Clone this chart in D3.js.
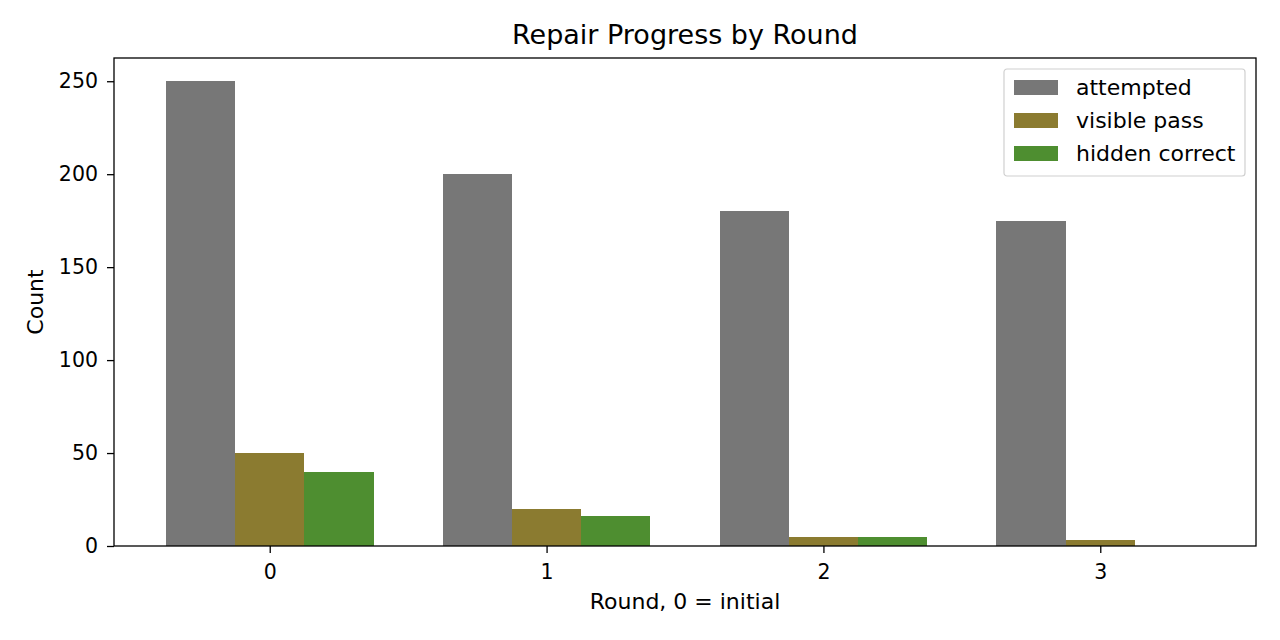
<!DOCTYPE html>
<html>
<head>
<meta charset="utf-8">
<script src="https://cdn.jsdelivr.net/npm/d3@7"></script>
<style>
  body { margin: 0; background: #fff; }
  text { font-family: "DejaVu Sans", sans-serif; }
</style>
</head>
<body>
<div id="mainDiv"></div>
<script>
// chart data
var rounds = [0, 1, 2, 3];
var seriesNames = ["attempted", "visible pass", "hidden correct"];
var attempted = [250, 200, 180, 175];
var visiblePass = [50, 20, 5, 3];
var hiddenCorrect = [40, 16, 5, 0];
var yTicks = [0, 50, 100, 150, 200, 250];
var colors = ["#777777", "#8b7b30", "#4e8e30"];

var W = 1280, H = 640;
var plotLeft = 114, plotRight = 1256, plotTop = 58, plotBottom = 546;

var svg = d3.select("#mainDiv").append("svg")
    .attr("width", W)
    .attr("height", H);

var barW = 0.25;
var x = d3.scaleLinear().domain([-0.5625, 3.5625]).range([plotLeft, plotRight]);
var y = d3.scaleLinear().domain([0, 262.5]).range([plotBottom, plotTop]);

var series = [attempted, visiblePass, hiddenCorrect];
var offsets = [-0.25, 0, 0.25];

series.forEach(function (vals, s) {
    svg.append("g").attr("shape-rendering", "crispEdges").selectAll("rect")
        .data(vals)
        .enter().append("rect")
        .attr("x", function (d, i) { return x(rounds[i] + offsets[s] - barW / 2); })
        .attr("width", function (d, i) { return x(rounds[i] + offsets[s] + barW / 2) - x(rounds[i] + offsets[s] - barW / 2); })
        .attr("y", function (d) { return y(d); })
        .attr("height", function (d) { return y(0) - y(d); })
        .attr("fill", colors[s]);
});

// axes
var xAxis = d3.axisBottom(x).tickValues(rounds).tickFormat(d3.format("d")).tickSize(7).tickPadding(11);
var yAxis = d3.axisLeft(y).tickValues(yTicks).tickSize(7).tickPadding(9);

var gx = svg.append("g").attr("transform", "translate(0," + plotBottom + ")").call(xAxis);
var gy = svg.append("g").attr("transform", "translate(" + plotLeft + ",0)").call(yAxis);
[gx, gy].forEach(function (g) {
    g.select(".domain").remove();
    g.selectAll("line").attr("stroke", "#000").attr("stroke-width", 1.3);
    g.selectAll("text").attr("font-size", "20.5px").attr("fill", "#000")
        .style("font-family", "DejaVu Sans, sans-serif");
});

// frame
svg.append("rect")
    .attr("x", plotLeft).attr("y", plotTop)
    .attr("width", plotRight - plotLeft).attr("height", plotBottom - plotTop)
    .attr("fill", "none").attr("stroke", "#000").attr("stroke-width", 1.3);

// title and labels
svg.append("text")
    .attr("x", (plotLeft + plotRight) / 2).attr("y", 44)
    .attr("text-anchor", "middle").attr("font-size", "27px")
    .text("Repair Progress by Round");

svg.append("text")
    .attr("x", (plotLeft + plotRight) / 2).attr("y", 609)
    .attr("text-anchor", "middle").attr("font-size", "22px")
    .text("Round, 0 = initial");

svg.append("text")
    .attr("transform", "translate(43," + ((plotTop + plotBottom) / 2) + ") rotate(-90)")
    .attr("text-anchor", "middle").attr("font-size", "22px")
    .text("Count");

// legend
var lg = svg.append("g").attr("transform", "translate(1004,69)");
lg.append("rect")
    .attr("width", 241).attr("height", 107).attr("rx", 3)
    .attr("fill", "#fff").attr("fill-opacity", 0.8)
    .attr("stroke", "#d0d0d0").attr("stroke-width", 1.2);
seriesNames.forEach(function (name, i) {
    lg.append("rect")
        .attr("x", 10).attr("y", 11 + i * 33)
        .attr("width", 44).attr("height", 15)
        .attr("fill", colors[i]);
    lg.append("text")
        .attr("x", 72).attr("y", 26 + i * 33)
        .attr("font-size", "22px")
        .text(name);
});
</script>
</body>
</html>
